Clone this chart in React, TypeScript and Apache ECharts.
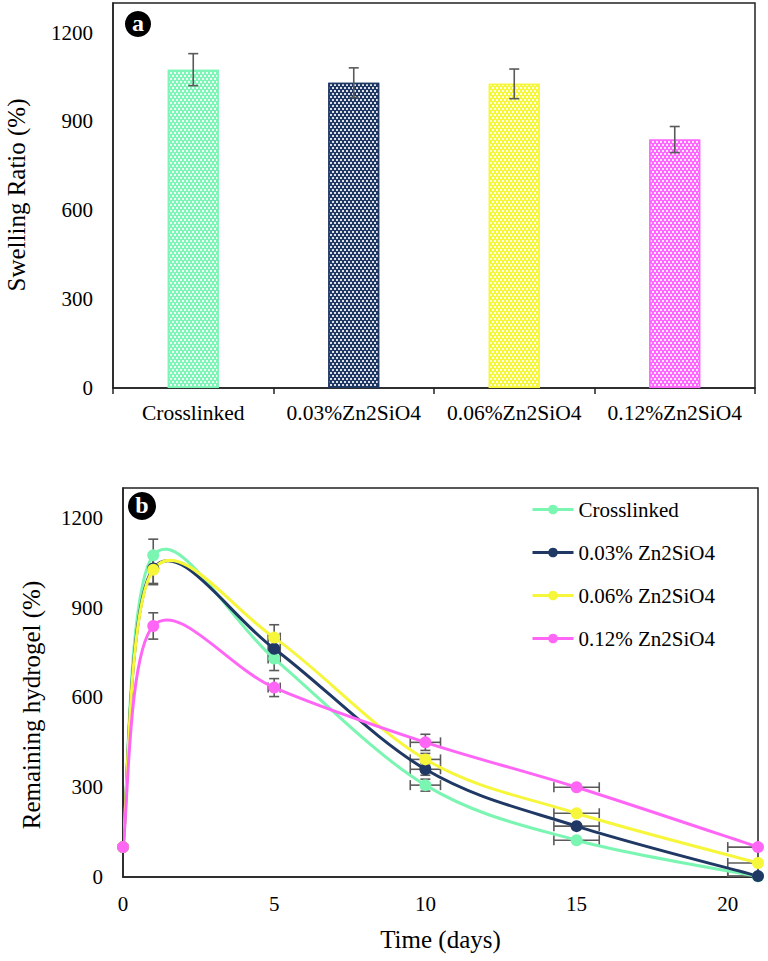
import React, { useEffect, useRef } from "react";
import * as echarts from "echarts";

// ---------- Panel (a): swelling ratio bars ----------
const barCategories = ["Crosslinked", "0.03%Zn2SiO4", "0.06%Zn2SiO4", "0.12%Zn2SiO4"];
const barValues = [1075, 1031, 1027, 839];
const barErrors = [54, 50, 50, 44];
const barColors = ["#7df5b6", "#1f3864", "#f6f63a", "#ff66ff"];

// ---------- Panel (b): remaining hydrogel ----------
const days = [0, 1, 5, 10, 15, 21];
const seriesNames = ["Crosslinked", "0.03% Zn2SiO4", "0.06% Zn2SiO4", "0.12% Zn2SiO4"];
const crosslinked = [100, 1075, 730, 307, 123, 2];
const zn003 = [100, 1031, 763, 360, 170, 3];
const zn006 = [100, 1027, 800, 393, 213, 47];
const zn012 = [100, 839, 633, 450, 300, 100];
const crosslinkedYErr = [0, 54, 40, 20, 0, 0];
const zn003YErr = [0, 50, 40, 20, 0, 0];
const zn006YErr = [0, 50, 43, 20, 0, 0];
const zn012YErr = [0, 44, 30, 27, 0, 0];
const dayErr = [0, 0, 0.2, 0.5, 0.75, 1];
const lineColors = ["#7af5b2", "#1f3864", "#f6f63a", "#ff66f5"];

const yTicks = [0, 300, 600, 900, 1200];

const FONT = "Liberation Serif";
const ERR_COLOR = "#5a5a5a";

function errRender(params: any, api: any) {
  const x = api.value(0);
  const y = api.value(1);
  const xe = api.value(2);
  const ye = api.value(3);
  const style = { stroke: ERR_COLOR, lineWidth: 1.6, fill: "none" };
  const children: any[] = [];
  const cap = 5;
  if (ye > 0) {
    const t = api.coord([x, y + ye]);
    const b = api.coord([x, y - ye]);
    children.push({ type: "line", shape: { x1: t[0], y1: t[1], x2: b[0], y2: b[1] }, style });
    children.push({ type: "line", shape: { x1: t[0] - cap, y1: t[1], x2: t[0] + cap, y2: t[1] }, style });
    children.push({ type: "line", shape: { x1: b[0] - cap, y1: b[1], x2: b[0] + cap, y2: b[1] }, style });
  }
  if (xe > 0) {
    const l = api.coord([x - xe, y]);
    const r = api.coord([x + xe, y]);
    children.push({ type: "line", shape: { x1: l[0], y1: l[1], x2: r[0], y2: r[1] }, style });
    children.push({ type: "line", shape: { x1: l[0], y1: l[1] - cap, x2: l[0], y2: l[1] + cap }, style });
    children.push({ type: "line", shape: { x1: r[0], y1: r[1] - cap, x2: r[0], y2: r[1] + cap }, style });
  }
  return { type: "group", children };
}

// Excel-like smoothed line: Catmull-Rom segments converted to cubic Bezier
function makeCurveRender(values: number[], color: string) {
  return (params: any, api: any) => {
    const k = params.dataIndex;
    const pts = days.map((d, i) => api.coord([d, values[i]]));
    const p0 = pts[Math.max(k - 1, 0)];
    const p1 = pts[k];
    const p2 = pts[k + 1];
    const p3 = pts[Math.min(k + 2, pts.length - 1)];
    if (!p2) return { type: "group", children: [] };
    return {
      type: "bezierCurve",
      shape: {
        x1: p1[0],
        y1: p1[1],
        cpx1: p1[0] + (p2[0] - p0[0]) / 6,
        cpy1: p1[1] + (p2[1] - p0[1]) / 6,
        cpx2: p2[0] - (p3[0] - p1[0]) / 6,
        cpy2: p2[1] - (p3[1] - p1[1]) / 6,
        x2: p2[0],
        y2: p2[1],
      },
      style: { stroke: color, lineWidth: 3, fill: "none" },
    };
  };
}

export default function App() {
  const ref = useRef<HTMLDivElement>(null);
  useEffect(() => {
    if (!ref.current) return;
    const chart = echarts.init(ref.current, null, { renderer: "svg" });

    const lineData = [crosslinked, zn003, zn006, zn012];
    const yErrs = [crosslinkedYErr, zn003YErr, zn006YErr, zn012YErr];

    const markerSeries = seriesNames.map((name, i) => ({
      name,
      type: "line",
      xAxisIndex: 1,
      yAxisIndex: 1,
      symbol: "circle",
      symbolSize: 12,
      z: 6,
      lineStyle: { color: lineColors[i], width: 3, opacity: 0 },
      itemStyle: { color: lineColors[i] },
      data: days.map((d, k) => [d, lineData[i][k]]),
    }));

    const curveSeries = seriesNames.map((name, i) => ({
      name: name + " curve",
      type: "custom",
      xAxisIndex: 1,
      yAxisIndex: 1,
      z: 4,
      clip: true,
      renderItem: makeCurveRender(lineData[i], lineColors[i]),
      data: days.slice(0, -1).map((d, k) => [d, lineData[i][k]]),
    }));

    const errSeries = seriesNames.map((name, i) => ({
      name: name + " err",
      type: "custom",
      xAxisIndex: 1,
      yAxisIndex: 1,
      z: 3,
      clip: true,
      renderItem: errRender,
      data: days.map((d, k) => [d, lineData[i][k], dayErr[k], yErrs[i][k]]),
    }));

    const labelStyle = () => ({ fontFamily: FONT, fontSize: 21, color: "#000" });
    const nameStyle = () => ({ fontFamily: FONT, fontSize: 25, color: "#000" });

    chart.setOption({
      animation: false,
      backgroundColor: "#fff",
      textStyle: { fontFamily: FONT },
      grid: [
        { left: 113, top: 3, right: 13, bottom: 573, show: true, borderColor: "#222", borderWidth: 1.5 },
        { left: 123, top: 488, right: 10, bottom: 84, show: true, borderColor: "#222", borderWidth: 1.5 },
      ],
      xAxis: [
        {
          type: "category",
          gridIndex: 0,
          data: barCategories,
          axisLine: { lineStyle: { color: "#222", width: 1.5 } },
          axisTick: { show: true, length: 6, lineStyle: { color: "#222", width: 1.5 } },
          axisLabel: { ...labelStyle(), fontSize: 21.5, margin: 14, interval: 0 },
        },
        {
          type: "value",
          gridIndex: 1,
          min: 0,
          max: 21,
          interval: 5,
          splitLine: { show: false },
          axisLine: { lineStyle: { color: "#222", width: 1.5 } },
          axisTick: { show: false },
          axisLabel: { ...labelStyle(), margin: 16, showMaxLabel: false },
          name: "Time (days)",
          nameLocation: "middle",
          nameGap: 50,
          nameTextStyle: nameStyle(),
        },
      ],
      yAxis: [
        {
          type: "value",
          gridIndex: 0,
          min: 0,
          max: 1300,
          interval: 300,
          splitLine: { show: false },
          axisLine: { show: true, lineStyle: { color: "#222", width: 1.5 } },
          axisTick: { show: false },
          axisLabel: {
            ...labelStyle(),
            margin: 20,
            formatter: (v: number) => (yTicks.includes(v) ? String(v) : ""),
          },
        },
        {
          type: "value",
          gridIndex: 1,
          min: 0,
          max: 1300,
          interval: 300,
          splitLine: { show: false },
          axisLine: { show: true, lineStyle: { color: "#222", width: 1.5 } },
          axisTick: { show: false },
          axisLabel: {
            ...labelStyle(),
            margin: 20,
            formatter: (v: number) => (yTicks.includes(v) ? String(v) : ""),
          },
        },
      ],
      legend: {
        data: seriesNames,
        orient: "vertical",
        left: 526,
        top: 494,
        itemWidth: 41,
        itemHeight: 12,
        itemGap: 22,
        lineStyle: { opacity: 1, width: 3 },
        textStyle: { fontFamily: FONT, fontSize: 21, color: "#000" },
      },
      series: [
        {
          name: "Swelling",
          type: "bar",
          xAxisIndex: 0,
          yAxisIndex: 0,
          barWidth: 51,
          data: barValues.map((v, i) => ({
            value: v,
            itemStyle: {
              color: barColors[i],
              borderColor: barColors[i],
              borderWidth: 1.5,
              decal: {
                symbol: "rect",
                symbolSize: 1,
                color: "rgba(255,255,255,0.85)",
                dashArrayX: [[2, 2], [0, 2, 2, 0]],
                dashArrayY: [2, 1],
                rotation: 0,
              },
            },
          })),
        },
        {
          name: "Swelling err",
          type: "custom",
          xAxisIndex: 0,
          yAxisIndex: 0,
          z: 4,
          renderItem: (params: any, api: any) => {
            const idx = api.value(0);
            const v = api.value(1);
            const e = api.value(2);
            const t = api.coord([idx, v + e]);
            const b = api.coord([idx, v - e]);
            const style = { stroke: ERR_COLOR, lineWidth: 1.6 };
            const cap = 5;
            return {
              type: "group",
              children: [
                { type: "line", shape: { x1: t[0], y1: t[1], x2: b[0], y2: b[1] }, style },
                { type: "line", shape: { x1: t[0] - cap, y1: t[1], x2: t[0] + cap, y2: t[1] }, style },
                { type: "line", shape: { x1: b[0] - cap, y1: b[1], x2: b[0] + cap, y2: b[1] }, style },
              ],
            };
          },
          data: barValues.map((v, i) => [i, v, barErrors[i]]),
        },
        ...errSeries,
        ...curveSeries,
        ...markerSeries,
      ],
      graphic: [
        {
          type: "text",
          x: 16,
          y: 195,
          rotation: Math.PI / 2,
          style: {
            text: "Swelling Ratio (%)",
            fill: "#000",
            font: `25px ${FONT}`,
            align: "center",
            verticalAlign: "middle",
          },
        },
        {
          type: "text",
          x: 31,
          y: 705,
          rotation: Math.PI / 2,
          style: {
            text: "Remaining hydrogel (%)",
            fill: "#000",
            font: `25px ${FONT}`,
            align: "center",
            verticalAlign: "middle",
          },
        },
        { type: "circle", shape: { cx: 138, cy: 24, r: 13 }, style: { fill: "#000" }, z: 100 },
        {
          type: "text",
          x: 138,
          y: 23,
          z: 101,
          style: { text: "a", fill: "#fff", font: `bold 24px ${FONT}`, align: "center", verticalAlign: "middle" },
        },
        { type: "circle", shape: { cx: 142, cy: 506, r: 14 }, style: { fill: "#000" }, z: 100 },
        {
          type: "text",
          x: 142,
          y: 505,
          z: 101,
          style: { text: "b", fill: "#fff", font: `bold 24px ${FONT}`, align: "center", verticalAlign: "middle" },
        },
      ],
    });
    return () => chart.dispose();
  }, []);
  return (
    <div
      ref={ref}
      style={{ position: "absolute", left: 0, top: 0, width: 768, height: 961, background: "#fff" }}
    />
  );
}
